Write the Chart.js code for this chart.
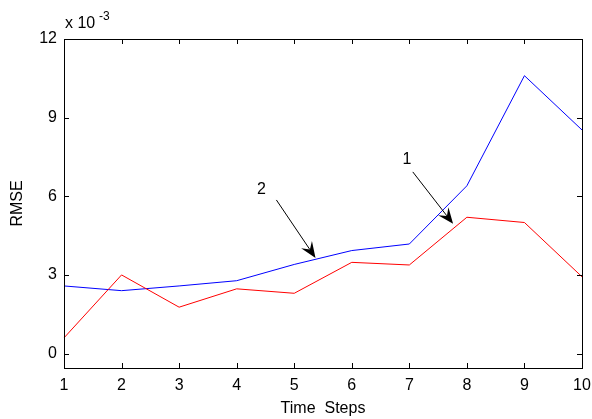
<!DOCTYPE html>
<html>
<head>
<meta charset="utf-8">
<script src="https://cdn.jsdelivr.net/npm/chart.js@4.4.0/dist/chart.umd.min.js"></script>
<style>
  html, body { margin: 0; padding: 0; background: #fff; }
  #wrap { width: 592px; height: 419px; position: relative; }
</style>
</head>
<body>
<div id="wrap"><canvas id="rmseChart"></canvas></div>
<script>
// data (RMSE values, real units)
const timeSteps = ['1', '2', '3', '4', '5', '6', '7', '8', '9', '10'];
const series1 = [0.00060, 0.00300, 0.00177, 0.00247, 0.00230, 0.00348, 0.00338, 0.00520, 0.00500, 0.00293];
const series2 = [0.00258, 0.00240, 0.00258, 0.00278, 0.00340, 0.00393, 0.00418, 0.00640, 0.01060, 0.00853];
const yTicks = [0, 0.003, 0.006, 0.009, 0.012];
const yTickLabels = ['0', '3', '6', '9', '12'];

// annotations: label text, text position, arrow tail, arrow tip (x = step, y = value)
const notes = [
    { text: '2', at: [4.43, 0.00624], from: [4.69, 0.00586], to: [5.37, 0.00365] },
    { text: '1', at: [6.96, 0.00739], from: [7.06, 0.00693], to: [7.76, 0.00495] }
];

const FONT = 'Liberation Sans, Arial, Helvetica, sans-serif';

// frame, inward ticks, exponent label and arrows like a matlab figure
const matlabAxes = {
    id: 'matlabAxes',
    afterDatasetsDraw(chart) {
        const ctx = chart.ctx;
        const a = chart.chartArea;
        const xs = chart.scales.x;
        const ys = chart.scales.y;
        ctx.save();

        ctx.strokeStyle = '#000';
        ctx.lineWidth = 1;
        ctx.strokeRect(Math.round(a.left) + 0.5, Math.round(a.top) + 0.5,
            Math.round(a.right - a.left), Math.round(a.bottom - a.top));

        ctx.beginPath();
        const tl = 5;
        for (let i = 0; i < timeSteps.length; i++) {
            const px = Math.round(xs.getPixelForValue(i)) + 0.5;
            ctx.moveTo(px, a.bottom); ctx.lineTo(px, a.bottom - tl);
            ctx.moveTo(px, a.top); ctx.lineTo(px, a.top + tl);
        }
        yTicks.forEach(function(v) {
            const py = Math.round(ys.getPixelForValue(v)) + 0.5;
            ctx.moveTo(a.left, py); ctx.lineTo(a.left + tl, py);
            ctx.moveTo(a.right, py); ctx.lineTo(a.right - tl, py);
        });
        ctx.stroke();

        // exponent
        ctx.fillStyle = '#000';
        ctx.textBaseline = 'alphabetic';
        ctx.textAlign = 'left';
        ctx.font = '16px ' + FONT;
        ctx.fillText('x 10', a.left + 1, 28);
        ctx.font = '12px ' + FONT;
        ctx.fillText('-3', a.left + 35, 20);

        // arrows
        notes.forEach(function(n) {
            const px = function(p) { return [xs.getPixelForValue(p[0] - 1), ys.getPixelForValue(p[1])]; };
            const t = px(n.at), f = px(n.from), e = px(n.to);
            ctx.font = '16px ' + FONT;
            ctx.textAlign = 'center';
            ctx.textBaseline = 'middle';
            ctx.fillText(n.text, t[0], t[1]);

            const ang = Math.atan2(e[1] - f[1], e[0] - f[0]);
            const len = 16, half = 6.5, back = 10;
            ctx.beginPath();
            ctx.moveTo(f[0], f[1]);
            ctx.lineTo(e[0] - Math.cos(ang) * back, e[1] - Math.sin(ang) * back);
            ctx.stroke();
            ctx.save();
            ctx.translate(e[0], e[1]);
            ctx.rotate(ang);
            ctx.beginPath();
            ctx.moveTo(0, 0);
            ctx.lineTo(-len, -half);
            ctx.lineTo(-back, 0);
            ctx.lineTo(-len, half);
            ctx.closePath();
            ctx.fill();
            ctx.restore();
        });
        ctx.restore();
    }
};

new Chart(document.getElementById('rmseChart'), {
    type: 'line',
    data: {
        labels: timeSteps,
        datasets: [{
            label: '1',
            data: series1,
            borderColor: '#ff0000',
            borderWidth: 1,
            pointRadius: 0,
            tension: 0
        }, {
            label: '2',
            data: series2,
            borderColor: '#0000ff',
            borderWidth: 1,
            pointRadius: 0,
            tension: 0
        }]
    },
    options: {
        responsive: true,
        maintainAspectRatio: false,
        animation: false,
        layout: { padding: { top: 39, right: 10, left: 0, bottom: 0 } },
        plugins: {
            legend: { display: false },
            tooltip: { enabled: false }
        },
        scales: {
            x: {
                offset: false,
                grid: { display: false, drawTicks: false },
                border: { display: false },
                ticks: {
                    color: '#000',
                    padding: 8,
                    maxRotation: 0,
                    autoSkip: false,
                    font: { family: FONT, size: 16 }
                },
                title: {
                    display: true,
                    text: 'Time  Steps',
                    color: '#000',
                    padding: { top: 0, bottom: 1 },
                    font: { family: FONT, size: 16 }
                },
                afterFit: function(scale) {
                    scale.height = 51;
                    scale.paddingRight = 0;
                    scale.paddingLeft = 0;
                }
            },
            y: {
                min: -0.00055,
                max: 0.012,
                grid: { display: false, drawTicks: false },
                border: { display: false },
                afterBuildTicks: function(scale) {
                    scale.ticks = yTicks.map(function(v) { return { value: v }; });
                },
                ticks: {
                    color: '#000',
                    padding: 7,
                    font: { family: FONT, size: 16 },
                    callback: function(value) {
                        const i = yTicks.indexOf(value);
                        return i >= 0 ? yTickLabels[i] : '';
                    }
                },
                title: {
                    display: true,
                    text: 'RMSE',
                    color: '#000',
                    padding: { top: 8, bottom: 0 },
                    font: { family: FONT, size: 16 }
                },
                afterFit: function(scale) { scale.width = 64; }
            }
        }
    },
    plugins: [matlabAxes]
});
</script>
</body>
</html>
